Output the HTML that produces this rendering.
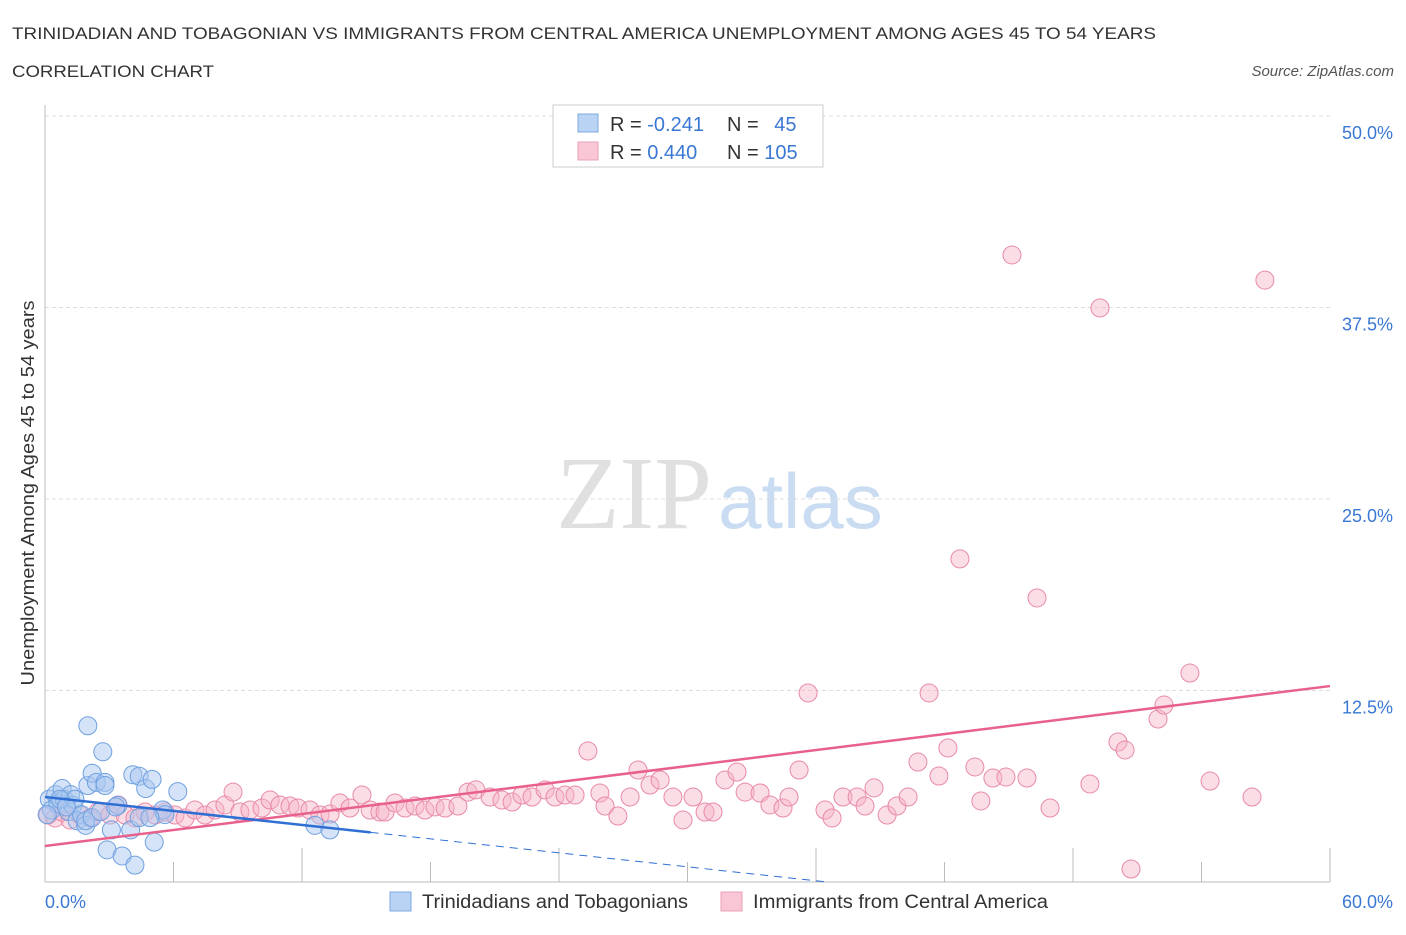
<!DOCTYPE html>
<html><head><meta charset="utf-8"><style>
body{margin:0;background:#fff;font-family:"Liberation Sans",sans-serif}
svg text{font-family:"Liberation Sans",sans-serif}
</style></head><body>
<svg id="c" width="1406" height="930">
<text x="12" y="39" font-size="17" fill="#333" textLength="1144" lengthAdjust="spacingAndGlyphs">TRINIDADIAN AND TOBAGONIAN VS IMMIGRANTS FROM CENTRAL AMERICA UNEMPLOYMENT AMONG AGES 45 TO 54 YEARS</text>
<text x="12" y="77" font-size="17" fill="#333" textLength="202" lengthAdjust="spacingAndGlyphs">CORRELATION CHART</text>
<text x="1394" y="76" font-size="15" fill="#555" font-style="italic" text-anchor="end">Source: ZipAtlas.com</text>
<text x="712" y="528" font-size="104" fill="#e0e0e0" text-anchor="end" style="font-family:'Liberation Serif',serif">ZIP</text>
<text x="718" y="528" font-size="78" fill="#c9dcf2">atlas</text>
<text transform="translate(34,493) rotate(-90)" font-size="18" fill="#333" text-anchor="middle" textLength="385" lengthAdjust="spacingAndGlyphs">Unemployment Among Ages 45 to 54 years</text>
<g id="grid"></g><g id="marks"></g>
<g>
<rect x="553" y="105" width="270" height="62" fill="#fff" stroke="#ccc"/>
<rect x="578" y="114" width="20" height="18" fill="#b9d3f5" stroke="#7fa8e0"/>
<rect x="578" y="142" width="20" height="18" fill="#f9c6d5" stroke="#e9a0b8"/>
<text x="610" y="131" font-size="20" fill="#333">R = <tspan fill="#3a78d4">-0.241</tspan></text>
<text x="727" y="131" font-size="20" fill="#333">N = <tspan fill="#3a78d4" dx="10">45</tspan></text>
<text x="610" y="159" font-size="20" fill="#333">R = <tspan fill="#3a78d4"> 0.440</tspan></text>
<text x="727" y="159" font-size="20" fill="#333">N = <tspan fill="#3a78d4">105</tspan></text>
</g>
<g>
<rect x="390" y="892" width="21" height="19" fill="#b9d3f5" stroke="#7fa8e0"/>
<text x="422" y="908" font-size="19" fill="#333" textLength="266" lengthAdjust="spacingAndGlyphs">Trinidadians and Tobagonians</text>
<rect x="721" y="892" width="21" height="19" fill="#f9c6d5" stroke="#e9a0b8"/>
<text x="753" y="908" font-size="19" fill="#333" textLength="295" lengthAdjust="spacingAndGlyphs">Immigrants from Central America</text>
</g>
</svg>
<script>
const yTicks=[12.5,25,37.5,50];
const yTickLabels=["12.5%","25.0%","37.5%","50.0%"];
const xTickLabels=["0.0%","60.0%"];
const blueX=[0.2,0.3,0.5,0.6,0.8,0.9,1.1,1.2,1.3,1.4,1.5,1.7,1.9,2.0,2.0,2.2,2.4,2.7,2.8,2.8,2.9,3.1,3.4,3.6,4.0,4.1,4.2,4.4,4.7,5.0,5.1,5.5,5.6,6.2,12.6,13.3,0.1,0.7,1.0,1.9,2.2,2.6,3.3,4.4,4.9];
const blueY=[5.4,4.7,5.7,5.1,6.1,5.4,4.6,5.7,5.0,5.4,4.0,4.4,3.7,6.3,10.2,7.1,6.5,8.5,6.5,6.3,2.1,3.4,5.0,1.7,3.4,7.0,1.1,6.9,6.1,6.7,2.6,4.7,4.4,5.9,3.7,3.4,4.4,5.4,4.9,4.0,4.2,4.6,4.9,4.2,4.2];
const pinkX=[0.14,0.47,0.79,1.17,1.63,2.10,2.47,3.04,3.41,3.74,4.20,4.67,5.14,5.60,6.07,6.54,7.00,7.47,7.94,8.40,8.78,9.10,9.57,10.13,10.51,10.97,11.44,11.81,12.37,12.84,13.31,13.77,14.24,14.80,15.18,15.64,15.88,16.34,16.81,17.28,17.74,18.21,18.68,19.28,19.75,20.12,20.78,21.34,21.81,22.27,22.74,23.35,23.81,24.28,24.75,25.35,25.91,26.15,26.75,27.32,27.69,28.25,28.72,29.32,29.79,30.26,30.82,31.19,31.75,32.31,32.69,33.39,33.85,34.46,34.74,35.21,35.63,36.42,36.75,37.26,37.92,38.29,38.71,39.32,39.78,40.30,40.76,41.28,41.74,42.16,42.72,43.42,43.70,44.26,44.87,45.15,45.85,46.32,46.93,48.79,49.26,50.10,50.43,50.71,51.97,52.25,53.46,54.40,56.36,56.96];
const pinkY=[4.37,4.18,4.57,4.05,4.37,4.18,4.57,4.37,5.03,4.37,4.18,4.57,4.37,4.57,4.37,4.18,4.70,4.37,4.70,5.03,5.87,4.57,4.70,4.83,5.35,5.03,4.96,4.83,4.70,4.37,4.44,5.16,4.83,5.68,4.70,4.57,4.57,5.16,4.83,4.96,4.70,4.90,4.83,4.96,5.87,6.01,5.55,5.35,5.22,5.68,5.55,6.01,5.55,5.68,5.68,8.55,5.81,4.96,4.31,5.55,7.31,6.33,6.66,5.55,4.05,5.55,4.57,4.57,6.66,7.18,5.87,5.81,5.03,4.83,5.55,7.31,12.34,4.70,4.18,5.55,5.55,4.96,6.14,4.37,4.96,5.55,7.83,12.34,6.92,8.75,21.09,7.51,5.29,6.79,6.85,40.93,6.79,18.54,4.83,6.40,37.47,9.14,8.62,0.85,10.64,11.55,13.64,6.59,5.55,39.29];
const pinkLine=[2.35,0.174];
const blueLine=[5.55,-0.152,15.2];
const X=v=>45+v*(1285/60), Y=v=>882-v*(191.5/12.5);
const NS="http://www.w3.org/2000/svg";
function mk(t,a,p){const e=document.createElementNS(NS,t);for(const k in a)e.setAttribute(k,a[k]);p.appendChild(e);return e;}
const g=document.getElementById('grid'),m=document.getElementById('marks');
yTicks.forEach((t,i)=>{
 const l=mk('line',{x1:45,x2:1330,y1:Y(t),y2:Y(t),stroke:'#ddd','stroke-dasharray':'4,3'},g);
 
 
 const tx=mk('text',{x:1393,y:Y(t)+23,'font-size':18,fill:'#3a78d4','text-anchor':'end'},g);
 tx.textContent=yTickLabels[i];
 
 
});
const ax=mk('line',{x1:45,x2:45,y1:105,y2:882,stroke:'#bbb'},g);


const bx=mk('line',{x1:45,x2:1330,y1:882,y2:882,stroke:'#bbb'},g);


for(let i=1;i<=10;i++){const t=mk('line',{x1:X(i*6),x2:X(i*6),y1:i%2?862:848,y2:882,stroke:'#bbb'},g);
 
 }
const xl0=mk('text',{x:45,y:908,'font-size':18,fill:'#3a78d4'},g);xl0.textContent=xTickLabels[0];


const xl1=mk('text',{x:1393,y:908,'font-size':18,fill:'#3a78d4','text-anchor':'end'},g);xl1.textContent=xTickLabels[1];


pinkX.forEach((x,i)=>{const c=mk('circle',{cx:X(x),cy:Y(pinkY[i]),r:9,fill:'#f6b3c8','fill-opacity':.45,stroke:'#e88aa8','stroke-width':1},m);
 
 });
blueX.forEach((x,i)=>{const c=mk('circle',{cx:X(x),cy:Y(blueY[i]),r:9,fill:'#a9c8f0','fill-opacity':.5,stroke:'#6fa0e0','stroke-width':1},m);
 
 });
const pl=mk('line',{x1:X(0),y1:Y(pinkLine[0]),x2:X(60),y2:Y(pinkLine[0]+60*pinkLine[1]),stroke:'#e8608c','stroke-width':2.5},m);


const bl=mk('line',{x1:X(0),y1:Y(blueLine[0]),x2:X(blueLine[2]),y2:Y(blueLine[0]+blueLine[2]*blueLine[1]),stroke:'#2f6fd4','stroke-width':2.5},m);


const xe=-blueLine[0]/blueLine[1];
const bd=mk('line',{x1:X(blueLine[2]),y1:Y(blueLine[0]+blueLine[2]*blueLine[1]),x2:X(xe),y2:Y(0),stroke:'#2f6fd4','stroke-width':1,'stroke-dasharray':'8,6'},m);


</script>
</body></html>
